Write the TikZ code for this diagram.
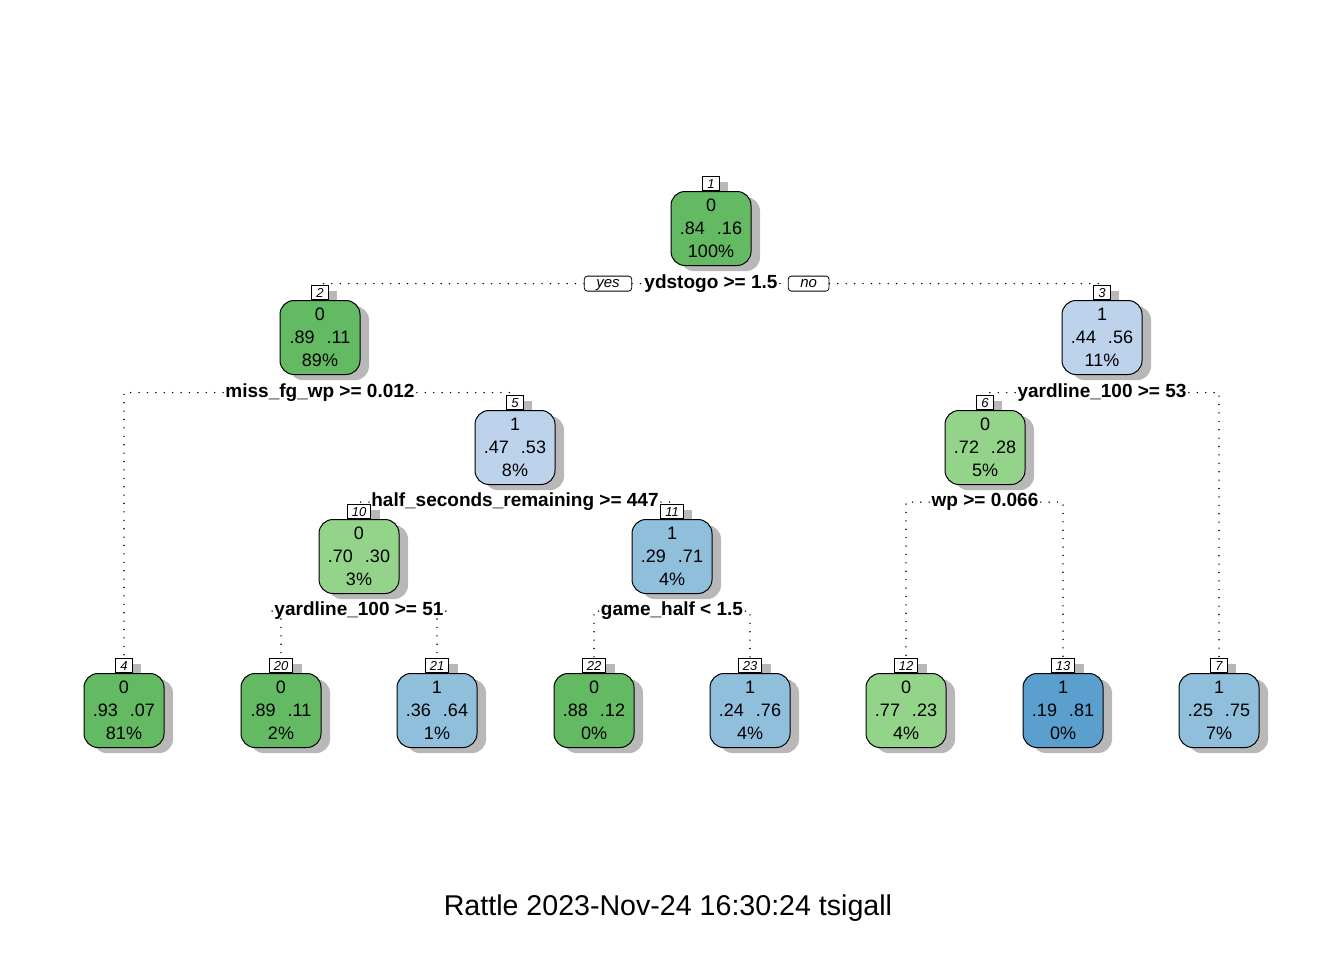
\documentclass[tikz,border=0pt]{standalone}
\usepackage{fontspec}
\setmainfont{Liberation Sans}
\usetikzlibrary{positioning}
\usetikzlibrary{shadows}

\definecolor{gndark}{HTML}{63BA63}
\definecolor{gnlight}{HTML}{93D38A}
\definecolor{bulight}{HTML}{BDD3EC}
\definecolor{bumid}{HTML}{90BFDC}
\definecolor{budark}{HTML}{5A9FCD}

\begin{document}
\begin{tikzpicture}
	[
	x=0.5pt, y=-0.5pt,
	shade/.style = {drop shadow={shadow xshift=4.5pt, shadow yshift=-2.8pt, fill=black!28, opacity=1}},
	box/.style = {draw, line width=0.5pt, rounded corners=7pt, minimum width=40pt, minimum height=37pt, inner sep=0pt, align=center, font=\fontsize{9}{11.5}\selectfont, shade},
	numbox/.style = {draw, fill=white, line width=0.4pt, anchor=south, minimum height=7pt, minimum width=8pt, inner xsep=2.3pt, inner ysep=0pt, text height=4.8pt, text depth=0pt, font=\fontsize{6.5}{6.5}\selectfont\itshape, shade},
	split/.style = {anchor=base, inner xsep=1pt, inner ysep=0pt, text height=4.4pt, text depth=0pt, font=\fontsize{9.5}{10}\selectfont\bfseries},
	yesno/.style = {draw, fill=white, rounded corners=1.5pt, line width=0.4pt, minimum height=7.5pt, inner xsep=6pt, inner ysep=0pt, text height=5pt, text depth=1.6pt, font=\fontsize{7.5}{7.5}\selectfont\itshape},
	edge/.style = {line width=0.8pt, line cap=round, dash pattern=on 0pt off 4.2pt}
	]
	\path[fill=white] (0,0) rectangle (1344,960);

	% inner nodes
	\node[numbox] (b1) at (711,191) {1};
	\node[box, fill=gndark, below=0pt of b1] (n1) {0\\.84\hspace{6pt}.16\\100\%};
	\node[numbox] (b2) at (320,300) {2};
	\node[box, fill=gndark, below=0pt of b2] (n2) {0\\.89\hspace{6pt}.11\\89\%};
	\node[numbox] (b3) at (1102,300) {3};
	\node[box, fill=bulight, below=0pt of b3] (n3) {1\\.44\hspace{6pt}.56\\11\%};
	\node[numbox] (b5) at (515,410) {5};
	\node[box, fill=bulight, below=0pt of b5] (n5) {1\\.47\hspace{6pt}.53\\8\%};
	\node[numbox] (b6) at (985,410) {6};
	\node[box, fill=gnlight, below=0pt of b6] (n6) {0\\.72\hspace{6pt}.28\\5\%};
	\node[numbox] (b10) at (359,519) {10};
	\node[box, fill=gnlight, below=0pt of b10] (n10) {0\\.70\hspace{6pt}.30\\3\%};
	\node[numbox] (b11) at (672,519) {11};
	\node[box, fill=bumid, below=0pt of b11] (n11) {1\\.29\hspace{6pt}.71\\4\%};

	% leaves
	\node[numbox] (b4) at (124,673) {4};
	\node[box, fill=gndark, below=0pt of b4] (n4) {0\\.93\hspace{6pt}.07\\81\%};
	\node[numbox] (b20) at (281,673) {20};
	\node[box, fill=gndark, below=0pt of b20] (n20) {0\\.89\hspace{6pt}.11\\2\%};
	\node[numbox] (b21) at (437,673) {21};
	\node[box, fill=bumid, below=0pt of b21] (n21) {1\\.36\hspace{6pt}.64\\1\%};
	\node[numbox] (b22) at (594,673) {22};
	\node[box, fill=gndark, below=0pt of b22] (n22) {0\\.88\hspace{6pt}.12\\0\%};
	\node[numbox] (b23) at (750,673) {23};
	\node[box, fill=bumid, below=0pt of b23] (n23) {1\\.24\hspace{6pt}.76\\4\%};
	\node[numbox] (b12) at (906,673) {12};
	\node[box, fill=gnlight, below=0pt of b12] (n12) {0\\.77\hspace{6pt}.23\\4\%};
	\node[numbox] (b13) at (1063,673) {13};
	\node[box, fill=budark, below=0pt of b13] (n13) {1\\.19\hspace{6pt}.81\\0\%};
	\node[numbox] (b7) at (1219,673) {7};
	\node[box, fill=bumid, below=0pt of b7] (n7) {1\\.25\hspace{6pt}.75\\7\%};

	% splits
	\node[split] (s1) at (711,288) {ydstogo >= 1.5};
	\node[yesno, left=5pt of s1] (yes1) {yes};
	\node[yesno, right=4pt of s1] (no1) {no};
	\node[split] (s2) at (320,397) {miss\_fg\_wp >= 0.012};
	\node[split] (s3) at (1102,397) {yardline\_100 >= 53};
	\node[split] (s5) at (515,506.5) {half\_seconds\_remaining >= 447};
	\node[split] (s6) at (985,506.5) {wp >= 0.066};
	\node[split] (s10) at (359,615.5) {yardline\_100 >= 51};
	\node[split] (s11) at (672,615.5) {game\_half < 1.5};

	\draw[edge] (yes1.west) -| (b2.north);
	\draw[edge] (yes1.east) -- (s1.west);
	\draw[edge] (s1.east) -- (no1.west);
	\draw[edge] (no1.east) -| (b3.north);
	\draw[edge] (s2.west) -| (b4.north);
	\draw[edge] (s2.east) -| (b5.north);
	\draw[edge] (s3.west) -| (b6.north);
	\draw[edge] (s3.east) -| (b7.north);
	\draw[edge] (s5.west) -| (b10.north);
	\draw[edge] (s5.east) -| (b11.north);
	\draw[edge] (s6.west) -| (b12.north);
	\draw[edge] (s6.east) -| (b13.north);
	\draw[edge] (s10.west) -| (b20.north);
	\draw[edge] (s10.east) -| (b21.north);
	\draw[edge] (s11.west) -| (b22.north);
	\draw[edge] (s11.east) -| (b23.north);

	\node[anchor=base, font=\fontsize{14.3}{16}\selectfont] (stamp) at (668,915) {Rattle 2023-Nov-24 16:30:24 tsigall};
\end{tikzpicture}
\end{document}
